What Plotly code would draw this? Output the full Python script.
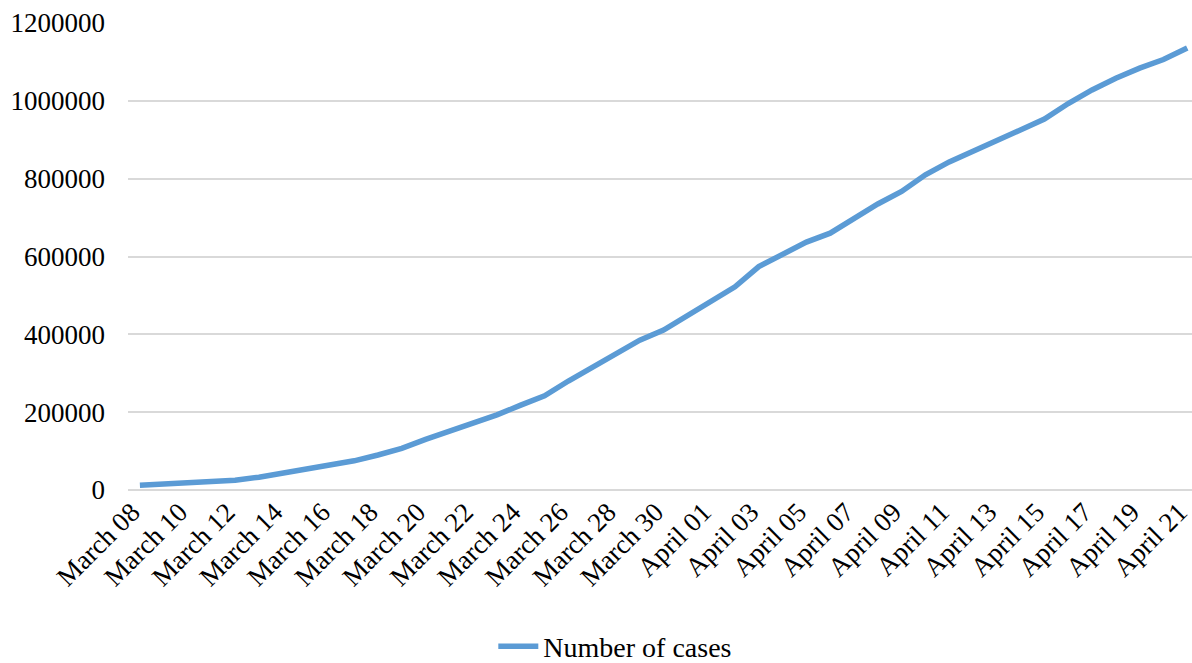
import plotly.graph_objects as go
import datetime as dt

start = dt.date(2020, 3, 8)
days = [start + dt.timedelta(days=i) for i in range(45)]
dates = [d.strftime("%B %d") for d in days]

cases = [12000, 15000, 18000, 21000, 25000, 33000, 44000, 53000, 64000, 75000,
         90000, 107000, 130000, 150000, 171000, 193000, 218000, 242000, 280000, 314000,
         351000, 385000, 411000, 449000, 485000, 522000, 574000, 604000, 637000, 660000,
         697000, 735000, 767000, 810000, 843000, 870000, 896000, 925000, 953000, 993000,
         1028000, 1058000, 1084000, 1106000, 1136000]

tick_labels = dates[::2]
y_ticks = [0, 200000, 400000, 600000, 800000, 1000000, 1200000]

fig = go.Figure()
fig.add_trace(go.Scatter(
    x=list(range(len(dates))), y=cases, mode="lines", name="Number of cases",
    line=dict(color="#5B9BD5", width=5.5),
))

font_family = "Liberation Serif, Times New Roman, serif"
fig.update_layout(
    width=1192, height=663,
    margin=dict(l=128, r=0, t=23, b=173, autoexpand=False),
    paper_bgcolor="white", plot_bgcolor="white",
    font=dict(family=font_family, size=27, color="#000000"),
    showlegend=True,
    legend=dict(orientation="h", x=0.458, xanchor="center", y=-0.335, yanchor="middle",
                font=dict(size=28), itemwidth=40),
    xaxis=dict(
        range=[-0.5, 44.2],
        tickmode="array",
        tickvals=list(range(0, len(dates), 2)),
        ticktext=tick_labels,
        tickangle=-45,
        ticklabelshift=-8,
        ticklabeloverflow="allow",
        showgrid=False, zeroline=False, showline=False, ticks="",
        tickfont=dict(size=27),
    ),
    yaxis=dict(
        range=[0, 1200000],
        tickvals=y_ticks,
        ticktext=[str(v) for v in y_ticks],
        showgrid=True, gridcolor="#D9D9D9", gridwidth=1.5,
        zeroline=True, zerolinecolor="#D9D9D9", zerolinewidth=1.5,
        showline=False, ticks="", ticklabelstandoff=22,
        tickfont=dict(size=27),
    ),
)

fig.write_html("out.html")
